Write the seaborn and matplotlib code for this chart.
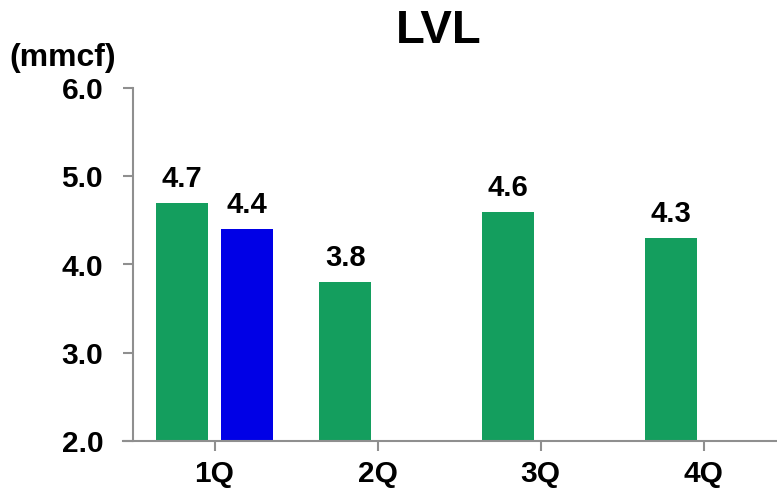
import numpy as np
import pandas as pd
import matplotlib
matplotlib.use("Agg")
import matplotlib.pyplot as plt
import seaborn as sns

# Chart data
quarters = ["1Q", "2Q", "3Q", "4Q"]
prior_year = [4.7, 3.8, 4.6, 4.3]
current_year = [4.4, np.nan, np.nan, np.nan]
series_names = ["Prior year", "Current year"]
series_colors = ["#149E5E", "#0000E6"]
y_ticks = [2.0, 3.0, 4.0, 5.0, 6.0]
title_text = "LVL"
unit_text = "(mmcf)"

df = pd.DataFrame({
    "quarter": quarters * 2,
    "series": [series_names[0]] * len(quarters) + [series_names[1]] * len(quarters),
    "value": prior_year + current_year,
})

sns.set_theme(style="white")
plt.rcParams["font.family"] = ["Liberation Sans", "DejaVu Sans"]
plt.rcParams["font.weight"] = "bold"

fig = plt.figure(figsize=(7.77, 4.94), dpi=100)
ax = fig.add_axes([133 / 777, 1 - 441 / 494, 652 / 777, 353 / 494])

sns.barplot(
    data=df.dropna(), x="quarter", y="value", hue="series",
    order=quarters, hue_order=series_names,
    palette=series_colors, width=0.79, gap=0.19,
    saturation=1, legend=False, ax=ax, errorbar=None, linewidth=0,
)

ax.set_xlim(-0.5, 3.5)
ax.set_ylim(y_ticks[0], y_ticks[-1])
ax.set_yticks(y_ticks)
ax.set_yticklabels([f"{t:.1f}" for t in y_ticks])
ax.set_xlabel("")
ax.set_ylabel("")

axis_gray = "#8F8F8F"
for side in ["top", "right"]:
    ax.spines[side].set_visible(False)
for side in ["left", "bottom"]:
    ax.spines[side].set_color(axis_gray)
    ax.spines[side].set_linewidth(1.5)
ax.spines["bottom"].set_bounds(-0.56, 3.5)

ax.tick_params(axis="y", direction="out", length=7.5, width=1.5, color=axis_gray,
               pad=14, labelsize=21.5, labelcolor="black", left=True)
ax.tick_params(axis="x", direction="out", length=7.5, width=1.5, color=axis_gray,
               pad=6, labelsize=21.5, labelcolor="black", bottom=True)
for lab in ax.get_xticklabels() + ax.get_yticklabels():
    lab.set_fontweight("bold")

# Value labels above each bar
for container in ax.containers:
    for bar in container:
        h = bar.get_height()
        if np.isnan(h):
            continue
        ax.annotate(f"{h:.1f}", (bar.get_x() + bar.get_width() / 2, h),
                    xytext=(0, 11.5), textcoords="offset points",
                    ha="center", va="baseline", fontsize=21,
                    fontweight="bold", color="black")

fig.text(439 / 777, 1 - 43 / 494, title_text, ha="center", va="baseline",
         fontsize=34, fontweight="bold", color="black")
fig.text(63 / 777, 1 - 66 / 494, unit_text, ha="center", va="baseline",
         fontsize=23, fontweight="bold", color="black")

fig.savefig("out.png", dpi=100)
